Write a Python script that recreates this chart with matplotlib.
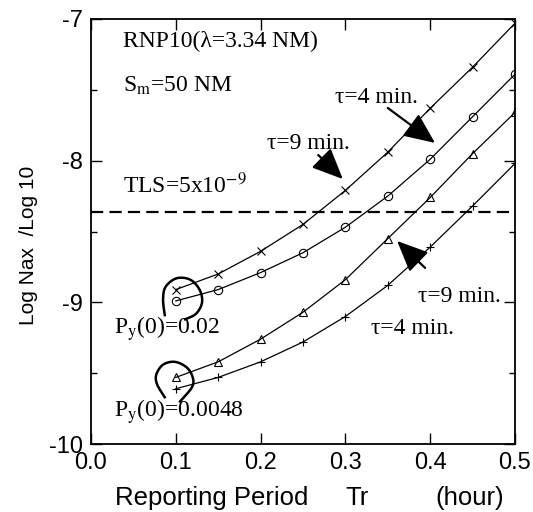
import matplotlib
matplotlib.use('Agg')
import matplotlib.pyplot as plt
import numpy as np

plt.rcParams['font.family'] = ['Liberation Sans', 'DejaVu Sans']
plt.rcParams['mathtext.fontset'] = 'stix'

# reporting period Tr (hour)
tr = [0.10, 0.15, 0.20, 0.25, 0.30, 0.35, 0.40, 0.45, 0.50]

# Log Nax / Log 10
py002_tau9 = [-8.91, -8.80, -8.64, -8.45, -8.21, -7.94, -7.63, -7.34, -7.03]
py002_tau4 = [-8.99, -8.91, -8.79, -8.65, -8.47, -8.25, -7.99, -7.69, -7.39]
py0048_tau9 = [-9.53, -9.42, -9.26, -9.07, -8.84, -8.55, -8.26, -7.95, -7.66]
py0048_tau4 = [-9.61, -9.53, -9.42, -9.28, -9.10, -8.88, -8.61, -8.32, -8.02]
tls = -8.36

# hand drawn loops around the Tr=0.1 points
loop1_x = [0.087, 0.085, 0.088, 0.101, 0.117, 0.128, 0.131, 0.124, 0.111]
loop1_y = [-9.09, -8.98, -8.89, -8.83, -8.84, -8.91, -9.00, -9.08, -9.12]
loop2_x = [0.105, 0.119, 0.120, 0.113, 0.099, 0.085, 0.077, 0.078, 0.087]
loop2_y = [-9.70, -9.60, -9.53, -9.46, -9.42, -9.44, -9.51, -9.58, -9.67]


def smooth(xs, ys, n=20):
    # catmull-rom through the given points
    p = np.column_stack([xs, ys])
    p = np.vstack([p[0], p, p[-1]])
    out = []
    for i in range(1, len(p) - 2):
        p0, p1, p2, p3 = p[i - 1], p[i], p[i + 1], p[i + 2]
        for t in np.linspace(0, 1, n, endpoint=False):
            out.append(0.5 * ((2 * p1) + (-p0 + p2) * t
                              + (2 * p0 - 5 * p1 + 4 * p2 - p3) * t ** 2
                              + (-p0 + 3 * p1 - 3 * p2 + p3) * t ** 3))
    out.append(p[-2])
    out = np.array(out)
    return out[:, 0], out[:, 1]


fig = plt.figure(figsize=(5.33, 5.12), dpi=100)
ax = fig.add_axes([0.1707, 0.1328, 0.7955, 0.8301])

mk = dict(color='k', lw=0.9, ms=6, mfc='none', mew=0.8)
ax.plot(tr, py002_tau9, marker='x', **mk)
ax.plot(tr, py002_tau4, marker='o', **mk)
ax.plot(tr, py0048_tau9, marker='^', **mk)
ax.plot(tr, py0048_tau4, marker='+', **mk)
ax.axhline(tls, color='k', lw=1.6, ls=(0, (5.5, 2.8)))

for lx, ly in [(loop1_x, loop1_y), (loop2_x, loop2_y)]:
    sx, sy = smooth(lx, ly)
    ax.plot(sx, sy, color='k', lw=1.8)

ax.set_xlim(0, 0.5)
ax.set_ylim(-10, -7)
ax.set_xticks([0.0, 0.1, 0.2, 0.3, 0.4, 0.5])
ax.set_xticklabels(['0.0', '0.1', '0.2', '0.3', '0.4', '0.5'])
ax.set_yticks([-10, -9, -8, -7])
ax.set_yticklabels(['-10', '-9', '-8', '-7'])
ax.set_yticks(np.arange(-9.5, -7, 1.0), minor=True)
ax.tick_params(which='both', direction='in', top=True, right=True,
               labelsize=17, width=1.0)
ax.tick_params(which='major', length=8, pad=6)
ax.tick_params(which='minor', length=4.5)
for s in ax.spines.values():
    s.set_linewidth(1.3)

ax.set_ylabel('Log Nax  /Log 10', fontsize=15)
ax.yaxis.set_label_coords(-0.125, 0.468)
ax.text(0.028, -10.43, 'Reporting Period', fontsize=18.5, va='baseline')
ax.text(0.2995, -10.43, 'Tr', fontsize=18.5, va='baseline')
ax.text(0.4057, -10.43, '(hour)', fontsize=18.5, va='baseline')

serif = dict(family=['Liberation Serif', 'DejaVu Serif'], fontsize=17, va='baseline')
ax.text(0.0377, -7.20, 'RNP10(λ=3.34 NM)', **serif)
ax.text(0.0377, -7.51, r'S$_\mathrm{m}$=50 NM', **serif)
ax.text(0.0377, -8.23, r'TLS=5x10$^{-9}$', **serif)
ax.text(0.2075, -7.92, 'τ=9 min.', **serif)
ax.text(0.2877, -7.59, 'τ=4 min.', **serif)
ax.text(0.3856, -9.00, 'τ=9 min.', **serif)
ax.text(0.330, -9.22, 'τ=4 min.', **serif)
ax.text(0.027, -9.22, r'P$_\mathrm{y}$(0)=0.02', **serif)
ax.text(0.027, -9.81, r'P$_\mathrm{y}$(0)=0.0048', **serif)

arrow = dict(arrowstyle='-|>,head_length=0.95,head_width=0.42',
             mutation_scale=20, color='k', lw=1.6, shrinkA=0, shrinkB=0)
ax.annotate('', xy=(0.297, -8.13), xytext=(0.268, -7.96), arrowprops=arrow)
ax.annotate('', xy=(0.4057, -7.875), xytext=(0.350, -7.628), arrowprops=arrow)
ax.annotate('', xy=(0.361, -8.567), xytext=(0.394, -8.757), arrowprops=arrow)

plt.savefig('out.png', dpi=100)
